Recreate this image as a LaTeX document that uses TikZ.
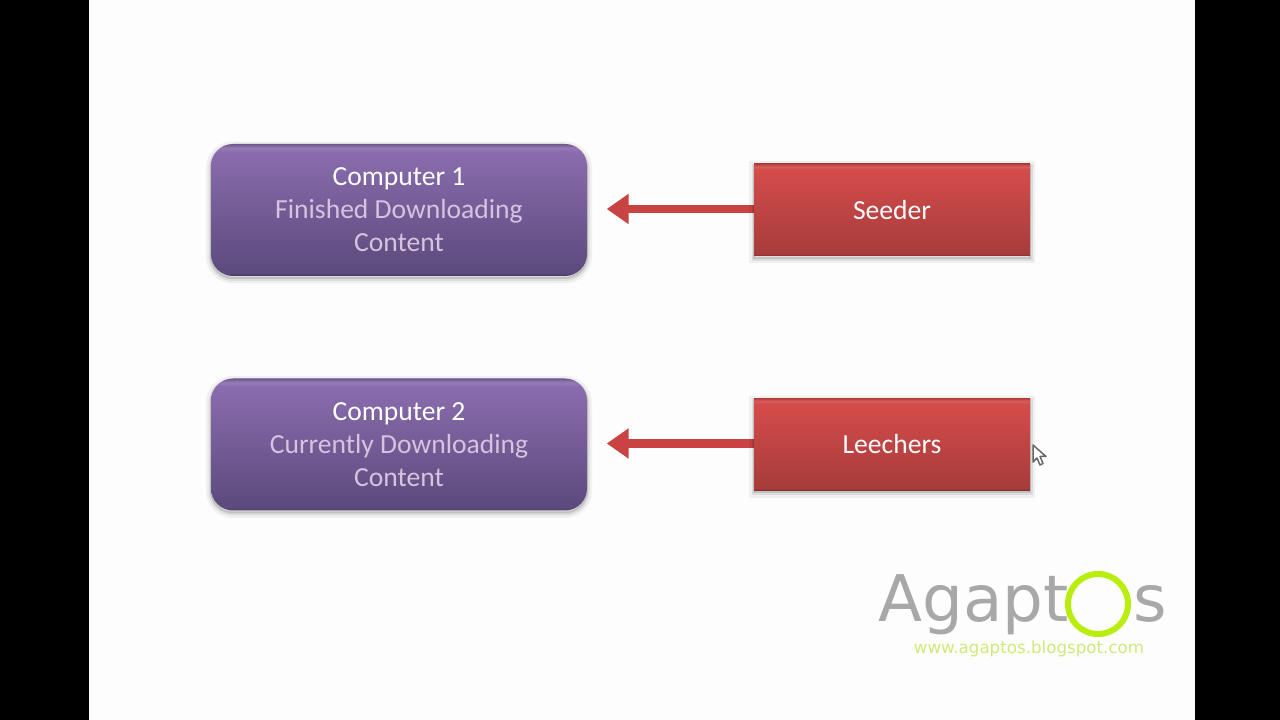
\documentclass[tikz,border=0pt]{standalone}
\usepackage{fontspec}
\setmainfont{Carlito}
\newfontfamily\logofont{DejaVu Sans}
\usetikzlibrary{arrows.meta,shapes.geometric}
\definecolor{figPurpleTop}{HTML}{8A6CAE}
\definecolor{figPurpleLow}{HTML}{5C4A7C}
\definecolor{figLilac}{HTML}{D5C3DF}
\definecolor{figRed}{HTML}{C94342}
\definecolor{figRedTop}{HTML}{D44C4A}
\definecolor{figRedLow}{HTML}{A63C3B}
\definecolor{figGrey}{HTML}{A8A8A8}
\definecolor{figLime}{HTML}{B9EE0C}
\definecolor{figLimeText}{HTML}{CFEA7A}
\definecolor{figPaper}{HTML}{FDFDFD}
\pgfdeclareverticalshading{purpleband}{100bp}{
  color(0bp)=(figPurpleLow!75!black);
  color(25bp)=(figPurpleLow!75!black);
  color(26bp)=(figPurpleLow);
  color(72bp)=(figPurpleTop);
  color(73.5bp)=(figPurpleTop!90!white);
  color(75bp)=(figPurpleTop!80!black);
  color(100bp)=(figPurpleTop!80!black)}
\pgfdeclareverticalshading{redband}{100bp}{
  color(0bp)=(figRedLow!70!black);
  color(25bp)=(figRedLow!70!black);
  color(26bp)=(figRedLow);
  color(72bp)=(figRedTop);
  color(73.5bp)=(figRedTop!90!white);
  color(75bp)=(figRedTop!85!black);
  color(100bp)=(figRedTop!85!black)}
\begin{document}
\begin{tikzpicture}[
  font=\fontsize{7.85pt}{9.39pt}\selectfont,
  softshadow/.style={
    preaction={draw=black,draw opacity=0.05,line width=1.0mm,transform canvas={yshift=-0.25mm}},
    preaction={draw=black,draw opacity=0.08,line width=0.5mm,transform canvas={yshift=-0.25mm}},
    preaction={draw=black,draw opacity=0.12,line width=0.2mm,transform canvas={yshift=-0.2mm}}},
  compbox/.style={softshadow,rounded corners=0.22cm,shading=purpleband,minimum width=3.76cm,minimum height=1.32cm,
                  inner sep=0pt,text=white,align=center},
  rolebox/.style={softshadow,shading=redband,minimum width=2.76cm,minimum height=0.92cm,inner sep=0pt,text=white!92!figLilac},
  arr/.style={-{Triangle[length=2.2mm,width=2.9mm]},figRed,line width=0.85mm,shorten >=0.19cm},
  logotext/.style={inner sep=0pt,anchor=base west,text=figGrey,font=\logofont\fontsize{18.3pt}{20pt}\selectfont}
]
% ---- Screen with black side bars ----
\useasboundingbox (0,0) rectangle (12.8,7.2);
\fill[black] (0,0) rectangle (12.8,7.2);
\fill[figPaper] (0.89,0) rectangle (11.95,7.2);

% ---- Computers (left) and their roles (right) ----
\node[compbox] (comp1) at (3.99,5.10) {Computer 1\\\textcolor{figLilac}{Finished Downloading}\\\textcolor{figLilac}{Content}};
\node[compbox] (comp2) at (3.99,2.755) {Computer 2\\\textcolor{figLilac}{Currently Downloading}\\\textcolor{figLilac}{Content}};

\coordinate (seedtail) at (7.6,5.11);
\coordinate (leechtail) at (7.6,2.765);
\draw[arr] (seedtail)  -- (comp1.east |- seedtail);
\draw[arr] (leechtail) -- (comp2.east |- leechtail);

\node[rolebox] (seeder)   at (8.92,5.10)  {Seeder};
\node[rolebox] (leechers) at (8.92,2.755) {Leechers};

% ---- Mouse pointer ----
\filldraw[fill=white,draw=black!60,line width=0.15mm,line join=round]
  (10.33,2.75) -- (10.33,2.58) -- (10.37,2.62) -- (10.40,2.55) -- (10.43,2.565) -- (10.40,2.635) -- (10.46,2.635) -- cycle;

% ---- Logo ----
\node[logotext] (logoa) at (8.78,0.98) {Agapt};
\node[draw=figLime,line width=0.6mm,circle,minimum size=0.6cm,inner sep=0pt] (logoo) at (10.98,1.16) {};
\node[logotext] (logos) at (11.33,0.98) {s};
\node[inner sep=0pt,anchor=base,text=figLimeText,font=\logofont\fontsize{4.75pt}{6pt}\selectfont] (logourl) at (10.29,0.665) {www.agaptos.blogspot.com};
\end{tikzpicture}
\end{document}
